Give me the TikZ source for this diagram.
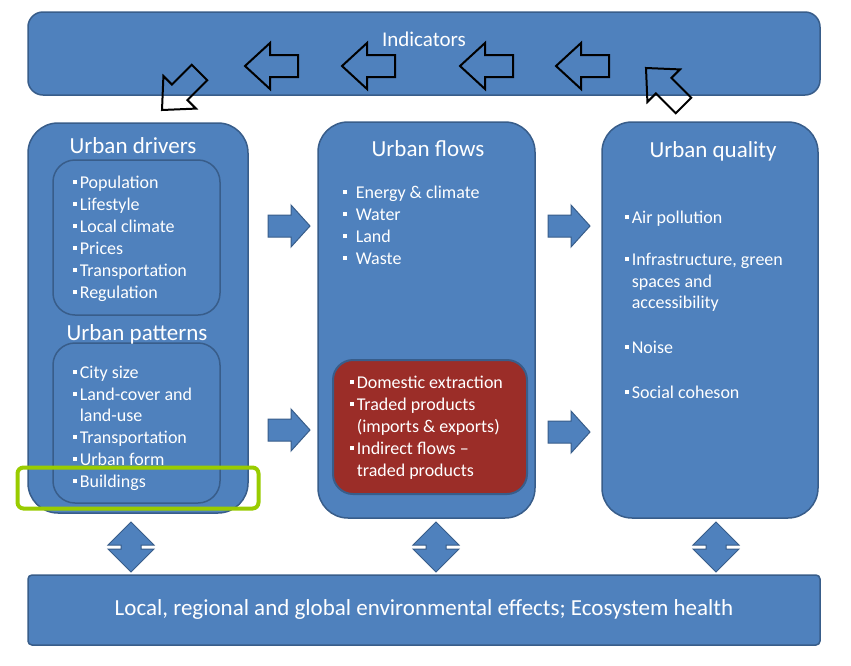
\documentclass[tikz,border=0pt]{standalone}
\usepackage{fontspec}
\setmainfont{Carlito}
\definecolor{bfill}{HTML}{4F81BD}
\definecolor{bdraw}{HTML}{385D8A}
\definecolor{rfill}{HTML}{9B2D28}
\definecolor{hlgreen}{HTML}{99CC00}
\newcommand{\bul}{\raisebox{0.22em}{\rule{3.6pt}{3.6pt}}\hspace{3pt}}
\newcommand{\nobul}{\phantom{\bul}}
\tikzset{
  panel/.style={draw=bdraw, line width=1.5, fill=bfill, rounded corners=#1, inner sep=0},
  title/.style={text=white, font=\fontsize{23}{27}\selectfont, inner sep=0},
  item/.style={text=white, font=\fontsize{18}{20}\selectfont, anchor=base west, inner sep=0},
  pics/harrow/.style={code={
    \draw[black, line width=2, line join=miter]
      (0,0) -- (25,-23) -- (25,-11) -- (53,-11) -- (53,11) -- (25,11) -- (25,23) -- cycle;}},
  pics/rarrow/.style={code={
    \draw[bdraw, line width=1, fill=bfill]
      (0,-11) -- (23,-11) -- (23,-21) -- (42,0) -- (23,21) -- (23,11) -- (0,11) -- cycle;}},
  pics/darrow/.style={code={
    \draw[bdraw, line width=1, fill=bfill]
      (0,-25) -- (23,-2) -- (10,-2) -- (10,2) -- (23,2) -- (0,25) -- (-23,2) -- (-10,2) -- (-10,-2) -- (-23,-2) -- cycle;
    \draw[white, line width=1.5] (11,0) -- (22,0) (-11,0) -- (-22,0);}}
}
\begin{document}
\begin{tikzpicture}[x=1pt,y=-1pt]
\useasboundingbox[fill=white] (0,0) rectangle (851,665);

% Indicators bar
\node[panel=15, minimum width=792, minimum height=83] (ind) at (424,53.5) {};
\node[title, font=\fontsize{21}{24}\selectfont] (indt) at (424,39) {Indicators};
\foreach \x in {245,342,460,556} \pic at (\x,66) {harrow};
\pic[rotate=45] at (162,110) {harrow};
\pic[rotate=-45] at (646,68) {harrow};

% Left column
\node[panel=30, minimum width=220, minimum height=390] (drv) at (138,318) {};
\node[panel=22, minimum width=167, minimum height=155] (drvin) at (136.5,237.5) {};
\node[panel=22, minimum width=167, minimum height=160] (patin) at (136.5,423) {};
\node[title] (drvt) at (133,146) {Urban drivers};
\node[title] (patt) at (137,334) {Urban patterns};
\foreach \t [count=\i] in {Population,Lifestyle,Local climate,Prices,Transportation,Regulation}
  \node[item] (dr\i) at (73,{188+22*(\i-1)}) {\bul\t};
\node[item] (pa1) at (73,378) {\bul City size};
\node[item] (pa2) at (73,400) {\bul Land-cover and};
\node[item] (pa3) at (73,421) {\nobul land-use};
\node[item] (pa4) at (73,443) {\bul Transportation};
\node[item] (pa5) at (73,465) {\bul Urban form};
\node[item] (pa6) at (73,487) {\bul Buildings};

% Middle column
\node[panel=30, minimum width=217, minimum height=396] (flo) at (426.5,320) {};
\node[title] (flot) at (428,149) {Urban flows};
\foreach \t [count=\i] in {Energy \& climate,Water,Land,Waste}
  \node[item] (fl\i) at (343,{198+22*(\i-1)}) {\bul\hspace{6pt}\t};
\node[panel=20, fill=rfill, line width=2, minimum width=194, minimum height=134] (red) at (430,427) {};
\node[item] (rd1) at (350,388) {\bul Domestic extraction};
\node[item] (rd2) at (350,410) {\bul Traded products};
\node[item] (rd3) at (350,432) {\nobul (imports \& exports)};
\node[item] (rd4) at (350,454) {\bul Indirect flows –};
\node[item] (rd5) at (350,476) {\nobul traded products};

% Right column
\node[panel=30, minimum width=216, minimum height=396] (qua) at (710,320) {};
\node[title] (quat) at (713,151) {Urban quality};
\node[item] (qu1) at (625,223) {\bul Air pollution};
\node[item] (qu2) at (625,265) {\bul Infrastructure, green};
\node[item] (qu3) at (625,287) {\nobul spaces and};
\node[item] (qu4) at (625,308) {\nobul accessibility};
\node[item] (qu5) at (625,353) {\bul Noise};
\node[item] (qu6) at (625,398) {\bul Social coheson};

% Horizontal block arrows
\pic at (268,226) {rarrow};
\pic at (268,430) {rarrow};
\pic at (548,226) {rarrow};
\pic at (548,432) {rarrow};

% Vertical double arrows
\pic at (131,547) {darrow};
\pic at (436,547) {darrow};
\pic at (716,547) {darrow};

% Bottom bar
\node[panel=4, minimum width=792, minimum height=70] (env) at (424,610) {};
\node[title] (envt) at (424,609) {Local, regional and global environmental effects; Ecosystem health};

% Highlight
\node[draw=hlgreen, line width=4, rounded corners=6, minimum width=241, minimum height=41, inner sep=0] (hl) at (138,488) {};
\end{tikzpicture}
\end{document}
